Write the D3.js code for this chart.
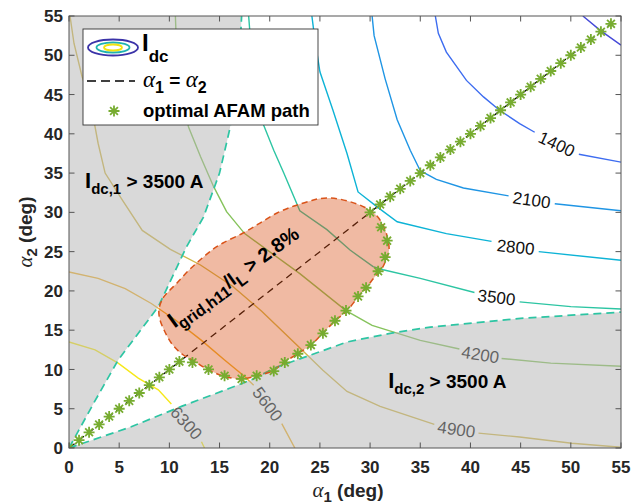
<!DOCTYPE html>
<html>
<head>
<meta charset="utf-8">
<script src="https://cdn.jsdelivr.net/npm/d3@7"></script>
<style>
  body { margin: 0; background: #fff; }
  svg { display: block; }
  text { font-family: "Liberation Sans", Arial, sans-serif; }
</style>
</head>
<body>
<svg id="chart" width="643" height="504"></svg>
<script>
// tick values
var xTicks = [0, 5, 10, 15, 20, 25, 30, 35, 40, 45, 50, 55];
var yTicks = [0, 5, 10, 15, 20, 25, 30, 35, 40, 45, 50, 55];

// Idc contour levels and their polylines (null = gap left for the label)
var levels = [700, 1400, 2100, 2800, 3500, 4200, 4900, 5600, 6300];
var c700 = [[51.2, 55], [52.9, 53.2], [55, 51.3]];
var c1400 = [[36.5, 55], [36.8, 52.8], [37.6, 50.4], [39.6, 46.8], [41.3, 44.7], [42.9, 43.0],
             [44.9, 41.3], [46.4, 40.2], null, [50.8, 37.4], [55, 36.4]];
var c2100 = [[30.2, 55], [30.4, 52.5], [31.5, 47], [32.7, 41.8], [34, 37.9], [35, 35.3],
             [36.6, 34.2], [39.3, 33.1], [43.8, 32.1], null, [48.4, 31.1], [55, 30.2]];
var c2800 = [[24.2, 55], [24.5, 52], [25, 47.9], [26.3, 43], [27.7, 37.5], [28.8, 32.6],
             [30.7, 30.7], [32.7, 28.8], [37.6, 27.3], [42.1, 26.3], null, [46.8, 25], [55, 23.9]];
var c3500 = [[17.9, 55], [18.2, 50], [18.7, 45], [19.4, 41.1], [20.4, 37.9], [21.4, 35], [23, 30.2],
             [25.7, 27.8], [28, 25.2], [30.3, 23.1], [31.3, 22.7], [35, 21.6], [40.4, 19.8], null,
             [44.9, 18.6], [50, 18], [55, 17.7]];
var c4200 = [[10.6, 55], [10.7, 51.5], [11.2, 46.4], [11.9, 40.9], [13.1, 37.1], [14.4, 33.3],
             [15.7, 30.1], [17.5, 27.3], [23, 22.2], [27.6, 17.5], [30.2, 15.6], [35, 13.7],
             [38.9, 12.6], null, [43.1, 11.4], [48, 10.8], [55, 10.4]];
var c4900 = [[0.1, 55], [0.5, 51.5], [1.3, 47.3], [2.1, 44.3], [2.9, 38.8], [3.6, 35], [5.4, 31.4],
             [7.3, 27.7], [10.1, 25.3], [13.1, 23.3], [16.3, 20.6], [19.2, 17.4], [22.7, 13.1],
             [25.3, 9.9], [27.7, 7.2], [31, 5.3], [36.4, 3.0], null, [40.8, 1.9], [44.9, 1.4],
             [50.1, 0.6], [55, 0.1]];
var c5600 = [[0, 22.4], [2.9, 21.6], [5.6, 20.3], [8.2, 18.4], [10.6, 16.3], [13.2, 13.7],
             [15.5, 11.2], [17.5, 9.1], [18.4, 8.0], null, [21.2, 3.1], [22.5, 0]];
var c6300 = [[0, 13.5], [2.6, 12.5], [4.9, 10.8], [6.9, 8.9], [8.9, 7.4], [10.2, 5.6], null,
             [13.2, 0.8], [13.5, 0]];
var contourLines = [c700, c1400, c2100, c2800, c3500, c4200, c4900, c5600, c6300];

// contour labels
var labelLevels = [1400, 2100, 2800, 3500, 4200, 4900, 5600, 6300];
var labelAt = [[48.6, 38.7], [46.1, 31.6], [44.5, 25.6], [42.6, 19.2], [41, 11.9], [38.6, 2.4], [19.8, 5.6], [11.7, 3.2]];
var labelTilt = [25, 8, 6, 7, 9, 8, 53, 48];

// Idc,1 > 3500 A and Idc,2 > 3500 A boundaries
var idc1Edge = [[0, 0], [2.5, 5.8], [4.9, 11.2], [8.9, 18], [11.7, 25.6], [13.4, 29.4], [15, 35],
                [16, 40.5], [16.6, 45], [17, 50], [17.2, 55]];
var idc2Edge = [[0, 0], [6.2, 2.7], [11.2, 5.3], [16, 7.6], [18.2, 8.7], [20.7, 10.3], [24, 11.8],
                [27.7, 13.5], [32, 14.6], [36, 15.4], [45, 16.5], [55, 17.3]];

// Igrid,h11/IL > 2.8% region boundary
var harmEdge = [[8.97, 17.7], [9.37, 19.1], [10.06, 20.11], [10.76, 21.01], [11.86, 22.53],
                [13.05, 23.93], [14.25, 25.21], [15.34, 26.1], [17.34, 27.37], [19.03, 28.64],
                [20.73, 29.92], [22.42, 30.81], [24.01, 31.44], [25.01, 31.76], [26.41, 31.79],
                [28.0, 31.36], [29.5, 30.62], [30.59, 29.66], [31.34, 28.26], [31.74, 26.73],
                [31.89, 25.21], [31.59, 23.93], [31.09, 22.66], [30.29, 21.51], [29.66, 20.46],
                [28.83, 19.26], [27.67, 17.44], [26.5, 16.17], [25.28, 14.6], [24.11, 13.11],
                [22.85, 12.06], [21.45, 10.91], [20.36, 9.87], [18.7, 9.17], [17.21, 8.81],
                [15.54, 9.1], [13.88, 9.96], [12.46, 11.08], [11.26, 11.97], [10.26, 13.24],
                [9.47, 15.02], [9.02, 16.55]];

// alpha1 = alpha2 line
var diagLine = [[0, 0], [54, 54]];

// optimal AFAM path
var pathLow = [[0, 0], [1, 1], [2, 2], [3, 3], [4, 4], [5, 5], [6, 6], [7, 7], [8, 8], [9, 9], [10, 10], [11, 11]];
var pathEdge = [[12.3, 10.9], [13.9, 10.0], [15.5, 9.2], [17.2, 8.8], [18.7, 9.2], [20.4, 9.8],
                [21.5, 10.9], [22.8, 12.0], [24.1, 13.1], [25.3, 14.6], [26.5, 16.2], [27.6, 17.5],
                [28.8, 19.3], [29.6, 20.4], [30.8, 22.5], [31.5, 24.3], [31.7, 26.4], [31.1, 28.1]];
var pathHigh = [[30, 30], [31, 31], [32, 32], [33, 33], [34, 34], [35, 35], [36, 36], [37, 37],
                [38, 38], [39, 39], [40, 40], [41, 41], [42, 42], [43, 43], [44, 44], [45, 45],
                [46, 46], [47, 47], [48, 48], [49, 49], [50, 50], [51, 51], [52, 52], [53, 53], [54, 54]];
var afamPath = pathLow.concat(pathEdge, pathHigh);

// ---------------------------------------------------------------------------

var svg = d3.select("#chart");
var x = d3.scaleLinear().domain([0, 55]).range([69, 621]);
var y = d3.scaleLinear().domain([0, 55]).range([448, 16]);

var levelColor = d3.scaleOrdinal()
    .domain(levels)
    .range(["#4549d8", "#3d6cf0", "#1f95e4", "#0db3d6", "#2dc5a3", "#86c35c", "#d2b84a", "#f0b22c", "#f6e81a"]);

var line = d3.line()
    .defined(function (d) { return d !== null; })
    .x(function (d) { return x(d[0]); })
    .y(function (d) { return y(d[1]); });

svg.append("defs").append("clipPath").attr("id", "plotClip")
    .append("rect")
    .attr("x", x(0)).attr("y", y(55))
    .attr("width", x(55) - x(0)).attr("height", y(0) - y(55));

var plot = svg.append("g").attr("clip-path", "url(#plotClip)");

// contour lines
plot.selectAll("path.contour")
    .data(contourLines)
    .enter()
    .append("path")
    .attr("class", "contour")
    .attr("d", line)
    .attr("fill", "none")
    .attr("stroke", function (d, i) { return levelColor(levels[i]); })
    .attr("stroke-width", 1.4);

// contour labels
plot.selectAll("text.clabel")
    .data(labelLevels)
    .enter()
    .append("text")
    .attr("class", "clabel")
    .attr("transform", function (d, i) {
        return "translate(" + x(labelAt[i][0]) + "," + y(labelAt[i][1]) + ") rotate(" + labelTilt[i] + ")";
    })
    .attr("text-anchor", "middle")
    .attr("dy", "0.36em")
    .attr("font-size", 17)
    .attr("fill", "#111")
    .text(function (d) { return d; });

// alpha1 = alpha2 dashed line (under the patches)
plot.append("path")
    .attr("d", line(diagLine))
    .attr("fill", "none")
    .attr("stroke", "#000")
    .attr("stroke-width", 1.3)
    .attr("stroke-dasharray", "7,5");

// shaded Idc regions
var greyAreas = [idc1Edge.concat([[0, 55]]), idc2Edge.concat([[55, 0]])];
plot.selectAll("path.grey")
    .data(greyAreas)
    .enter()
    .append("path")
    .attr("class", "grey")
    .attr("d", function (d) { return line(d) + "Z"; })
    .attr("fill", "#b3b3b3")
    .attr("fill-opacity", 0.5)
    .attr("stroke", "none");

plot.selectAll("path.greyEdge")
    .data([idc1Edge, idc2Edge])
    .enter()
    .append("path")
    .attr("class", "greyEdge")
    .attr("d", line)
    .attr("fill", "none")
    .attr("stroke", "#2dc5a3")
    .attr("stroke-width", 1.7)
    .attr("stroke-dasharray", "8,5");

// harmonic region
var smooth = d3.line()
    .curve(d3.curveCatmullRomClosed)
    .x(function (d) { return x(d[0]); })
    .y(function (d) { return y(d[1]); });

plot.append("path")
    .attr("d", smooth(harmEdge))
    .attr("fill", "#D95319")
    .attr("fill-opacity", 0.4)
    .attr("stroke", "#D95319")
    .attr("stroke-width", 1.5)
    .attr("stroke-dasharray", "6,4");

// optimal AFAM path markers
var star = "M-5.5,0H5.5M0,-5.5V5.5M-3.9,-3.9L3.9,3.9M-3.9,3.9L3.9,-3.9";
plot.selectAll("path.star")
    .data(afamPath)
    .enter()
    .append("path")
    .attr("class", "star")
    .attr("transform", function (d) { return "translate(" + x(d[0]) + "," + y(d[1]) + ")"; })
    .attr("d", star)
    .attr("fill", "none")
    .attr("stroke", "#77AC30")
    .attr("stroke-width", 1.8);

// region annotations
function subText(g, parts) {
    var t = g.append("text").attr("font-weight", "bold").attr("fill", "#000");
    parts.forEach(function (p) {
        t.append("tspan")
            .attr("font-size", p.size)
            .attr("dy", p.dy || 0)
            .text(p.t);
    });
    return t;
}

subText(svg.append("g").attr("transform", "translate(" + x(1.6) + "," + y(33.1) + ")"), [
    {t: "I", size: 22}, {t: "dc,1", size: 15, dy: 6}, {t: " > 3500 A", size: 19, dy: -6}
]);
subText(svg.append("g").attr("transform", "translate(" + x(31.8) + "," + y(7.6) + ")"), [
    {t: "I", size: 22}, {t: "dc,2", size: 15, dy: 6}, {t: " > 3500 A", size: 19, dy: -6}
]);
subText(svg.append("g").attr("transform", "translate(" + x(10.5) + "," + y(15.2) + ") rotate(-36)"), [
    {t: "I", size: 22}, {t: "grid,h11", size: 16, dy: 6}, {t: "/I", size: 19, dy: -6},
    {t: "L", size: 16, dy: 6}, {t: " > 2.8%", size: 20, dy: -6}
]);

// axes box and ticks
var axes = svg.append("g");
axes.append("rect")
    .attr("x", x(0)).attr("y", y(55))
    .attr("width", x(55) - x(0)).attr("height", y(0) - y(55))
    .attr("fill", "none").attr("stroke", "#555").attr("stroke-width", 1);

var tickLen = 5.5;
axes.selectAll("line.xt").data(xTicks).enter().append("line")
    .attr("x1", function (d) { return x(d); }).attr("x2", function (d) { return x(d); })
    .attr("y1", y(0)).attr("y2", y(0) - tickLen).attr("stroke", "#555");
axes.selectAll("line.xtt").data(xTicks).enter().append("line")
    .attr("x1", function (d) { return x(d); }).attr("x2", function (d) { return x(d); })
    .attr("y1", y(55)).attr("y2", y(55) + tickLen).attr("stroke", "#555");
axes.selectAll("line.yt").data(yTicks).enter().append("line")
    .attr("y1", function (d) { return y(d); }).attr("y2", function (d) { return y(d); })
    .attr("x1", x(0)).attr("x2", x(0) + tickLen).attr("stroke", "#555");
axes.selectAll("line.ytr").data(yTicks).enter().append("line")
    .attr("y1", function (d) { return y(d); }).attr("y2", function (d) { return y(d); })
    .attr("x1", x(55)).attr("x2", x(55) - tickLen).attr("stroke", "#555");

axes.selectAll("text.xl").data(xTicks).enter().append("text")
    .attr("x", function (d) { return x(d); }).attr("y", 473)
    .attr("text-anchor", "middle").attr("font-size", 17).attr("font-weight", "bold")
    .attr("fill", "#262626")
    .text(function (d) { return d; });
axes.selectAll("text.yl").data(yTicks).enter().append("text")
    .attr("x", 63).attr("y", function (d) { return y(d); }).attr("dy", "0.36em")
    .attr("text-anchor", "end").attr("font-size", 17).attr("font-weight", "bold")
    .attr("fill", "#262626")
    .text(function (d) { return d; });

// axis titles
function alphaLabel(t, idx) {
    t.append("tspan").attr("font-family", "'Liberation Serif', serif").attr("font-style", "italic")
        .attr("font-size", 21).text("\u03b1");
    t.append("tspan").attr("font-size", 15).attr("font-weight", "bold").attr("dy", 5).text(idx);
    t.append("tspan").attr("font-size", 19).attr("font-weight", "bold").attr("dy", -5).text(" (deg)");
}
var xt = svg.append("text").attr("x", 348).attr("y", 497).attr("text-anchor", "middle").attr("fill", "#262626");
alphaLabel(xt, "1");
var yt = svg.append("text").attr("transform", "translate(32,232) rotate(-90)").attr("text-anchor", "middle").attr("fill", "#262626");
alphaLabel(yt, "2");

// legend
var lg = svg.append("g");
lg.append("rect").attr("x", 83).attr("y", 29).attr("width", 235).attr("height", 96)
    .attr("fill", "#fff").attr("stroke", "#333").attr("stroke-width", 0.9);

var rings = [[25, 8, "#3b33a8"], [16.5, 5, "#1fb3b0"], [9, 3, "#f2e310"]];
lg.selectAll("ellipse").data(rings).enter().append("ellipse")
    .attr("cx", 113).attr("cy", 47.5)
    .attr("rx", function (d) { return d[0]; }).attr("ry", function (d) { return d[1]; })
    .attr("fill", "none").attr("stroke", function (d) { return d[2]; }).attr("stroke-width", 1.8);
var lt1 = lg.append("text").attr("x", 142).attr("y", 51).attr("font-weight", "bold").attr("fill", "#000");
lt1.append("tspan").attr("font-size", 24).text("I");
lt1.append("tspan").attr("font-size", 17).attr("dy", 11).text("dc");

lg.append("line").attr("x1", 87).attr("x2", 135).attr("y1", 81).attr("y2", 81)
    .attr("stroke", "#000").attr("stroke-width", 1.3).attr("stroke-dasharray", "9,5");
var lt2 = lg.append("text").attr("x", 143).attr("y", 87).attr("fill", "#000");
lt2.append("tspan").attr("font-family", "'Liberation Serif', serif").attr("font-style", "italic").attr("font-size", 23).text("\u03b1");
lt2.append("tspan").attr("font-size", 16).attr("font-weight", "bold").attr("dy", 6).text("1");
lt2.append("tspan").attr("font-size", 19).attr("font-weight", "bold").attr("dy", -6).text(" = ");
lt2.append("tspan").attr("font-family", "'Liberation Serif', serif").attr("font-style", "italic").attr("font-size", 23).text("\u03b1");
lt2.append("tspan").attr("font-size", 16).attr("font-weight", "bold").attr("dy", 6).text("2");

lg.append("path").attr("transform", "translate(114,111)").attr("d", star)
    .attr("fill", "none").attr("stroke", "#77AC30").attr("stroke-width", 1.8);
lg.append("text").attr("x", 143).attr("y", 117).attr("font-size", 18.5).attr("font-weight", "bold")
    .attr("fill", "#000").text("optimal AFAM path");
</script>
</body>
</html>
